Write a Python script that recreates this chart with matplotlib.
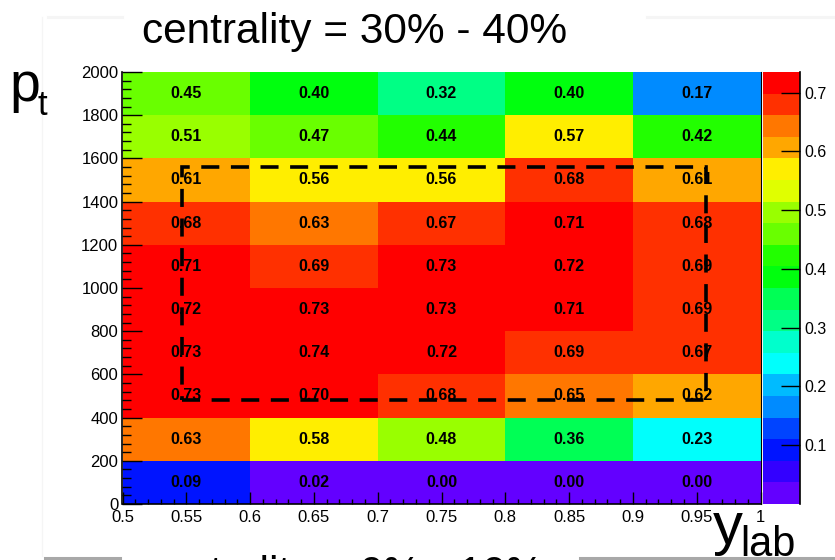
import colorsys
import numpy as np
import matplotlib
matplotlib.use('Agg')
import matplotlib.pyplot as plt
from matplotlib.colors import ListedColormap, BoundaryNorm
from matplotlib.patches import Rectangle
from matplotlib.lines import Line2D
from matplotlib.ticker import MultipleLocator

plt.rcParams['font.family'] = ['Liberation Sans', 'DejaVu Sans']

# bin edges of the 2D histogram
ylab_edges = [0.5, 0.6, 0.7, 0.8, 0.9, 1.0]
pt_edges = [0, 200, 400, 600, 800, 1000, 1200, 1400, 1600, 1800, 2000]

# cell contents, one list per pt bin (bottom to top), one entry per ylab bin
row_0_200 = [0.09, 0.02, 0.00, 0.00, 0.00]
row_200_400 = [0.63, 0.58, 0.48, 0.36, 0.23]
row_400_600 = [0.73, 0.70, 0.68, 0.65, 0.62]
row_600_800 = [0.73, 0.74, 0.72, 0.69, 0.67]
row_800_1000 = [0.72, 0.73, 0.73, 0.71, 0.69]
row_1000_1200 = [0.71, 0.69, 0.73, 0.72, 0.69]
row_1200_1400 = [0.68, 0.63, 0.67, 0.71, 0.68]
row_1400_1600 = [0.61, 0.56, 0.56, 0.68, 0.61]
row_1600_1800 = [0.51, 0.47, 0.44, 0.57, 0.42]
row_1800_2000 = [0.45, 0.40, 0.32, 0.40, 0.17]

# z range of the palette and the dashed selection box
z_min, z_max = 0.0, 0.735
box_ylab = [0.547, 0.957]
box_pt = [480, 1560]

xtick_vals = [0.5, 0.55, 0.6, 0.65, 0.7, 0.75, 0.8, 0.85, 0.9, 0.95, 1.0]
xtick_labels = ['0.5', '0.55', '0.6', '0.65', '0.7', '0.75', '0.8', '0.85', '0.9', '0.95', '1']
ytick_vals = pt_edges
cbar_ticks = [0.1, 0.2, 0.3, 0.4, 0.5, 0.6, 0.7]

W, H = 835, 560


def fx(px):
    return px / W


def fy(py):
    return 1 - py / H


# ROOT "pretty" palette (50 hues, violet -> red), 20 contour levels
n_cont = 20
pal = []
for i in range(50):
    hue = 280 - (i + 1) * (280 / 50)
    pal.append(colorsys.hls_to_rgb(hue / 360, 0.5, 1.0))
level_colors = [pal[int((j + 0.99) * 50 / n_cont)] for j in range(n_cont)]
cmap = ListedColormap(level_colors)
levels = np.linspace(z_min, z_max, n_cont + 1)
norm = BoundaryNorm(levels, n_cont, clip=True)

z = np.array([row_0_200, row_200_400, row_400_600, row_600_800, row_800_1000,
              row_1000_1200, row_1200_1400, row_1400_1600, row_1600_1800, row_1800_2000])

fig = plt.figure(figsize=(W / 100, H / 100), dpi=100)
ax = fig.add_axes([fx(122.5), fy(504), fx(760.5) - fx(122.5), fy(72) - fy(504)])

mesh = ax.pcolormesh(ylab_edges, pt_edges, z, cmap=cmap, norm=norm)

xc = [(a + b) / 2 for a, b in zip(ylab_edges[:-1], ylab_edges[1:])]
yc = [(a + b) / 2 for a, b in zip(pt_edges[:-1], pt_edges[1:])]
for i, row in enumerate(z):
    for j, v in enumerate(row):
        ax.text(xc[j], yc[i], f"{v:.2f}", ha='center', va='center',
                fontsize=11.5, fontweight='bold', color='black')

ax.add_patch(Rectangle((box_ylab[0], box_pt[0]), box_ylab[1] - box_ylab[0],
                       box_pt[1] - box_pt[0], fill=False, ec='black', lw=2.6,
                       linestyle=(0, (5, 3.2)), zorder=5))

ax.set_xlim(ylab_edges[0], ylab_edges[-1])
ax.set_ylim(pt_edges[0], pt_edges[-1])
ax.set_xticks(xtick_vals)
ax.set_xticklabels(xtick_labels)
ax.set_yticks(ytick_vals)
ax.set_yticklabels([str(v) for v in ytick_vals])
ax.xaxis.set_minor_locator(MultipleLocator(0.01))
ax.yaxis.set_minor_locator(MultipleLocator(40))
ax.tick_params(axis='x', which='major', direction='in', length=9, width=1, labelsize=12, pad=4)
ax.tick_params(axis='x', which='minor', direction='in', length=3.6, width=1)
ax.tick_params(axis='y', which='major', direction='in', length=14.5, width=1, labelsize=12, pad=3)
ax.tick_params(axis='y', which='minor', direction='in', length=6.5, width=1)
ax.spines['top'].set_visible(False)
ax.spines['right'].set_linewidth(0.8)
for s in ['left', 'bottom']:
    ax.spines[s].set_linewidth(1.2)

# palette axis
cax = fig.add_axes([fx(763), fy(504), fx(800) - fx(763), fy(72) - fy(504)])
cb = fig.colorbar(mesh, cax=cax)
cb.outline.set_visible(False)
cb.set_ticks(cbar_ticks)
cb.set_ticklabels([f"{t:.1f}" for t in cbar_ticks])
cax.minorticks_off()
cax.tick_params(axis='y', direction='in', length=14, width=1, labelsize=11.5, pad=3)
cax.plot([1, 1], [0, 1], transform=cax.transAxes, color='black', lw=1.2, clip_on=False)

# texts around the frame
fig.text(fx(142), fy(43), 'centrality = 30% - 40%', fontsize=30.5, ha='left', va='baseline')
fig.text(fx(142), fy(586), 'centrality = 0% - 10%', fontsize=30.5, ha='left', va='baseline')
fig.text(fx(9), fy(101), 'p', fontsize=40, ha='left', va='baseline')
fig.text(fx(37.5), fy(115), 't', fontsize=25, ha='left', va='baseline')
fig.text(fx(713), fy(544), 'y', fontsize=43, ha='left', va='baseline')
fig.text(fx(740), fy(556), 'lab', fontsize=30, ha='left', va='baseline')

# slide frame remnants
for x0, x1, y0, c in [(45, 120, 558, '#a8a8a8'), (580, 835, 558, '#a8a8a8'),
                      (48, 122, 17, '#f5f5f5'), (647, 835, 17, '#f5f5f5')]:
    fig.add_artist(Line2D([fx(x0), fx(x1)], [fy(y0), fy(y0)], color=c, lw=2.2))
fig.add_artist(Line2D([fx(42), fx(42)], [fy(17), fy(556)], color='#f5f5f5', lw=1))

fig.savefig('out.png', dpi=100)
